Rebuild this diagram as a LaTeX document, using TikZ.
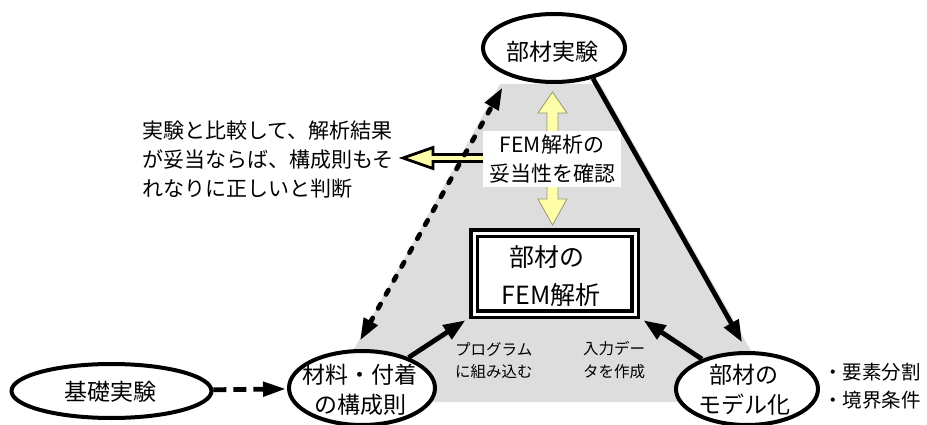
\documentclass[tikz,border=0pt]{standalone}
\usepackage{fontspec}
\setmainfont{Noto Sans CJK JP}
\usetikzlibrary{arrows.meta,shapes.geometric}
\definecolor{bggrey}{RGB}{221,221,221}
\definecolor{ylw}{RGB}{255,255,170}
\definecolor{ylwedge}{RGB}{150,150,110}
\begin{document}
\begin{tikzpicture}[x=1pt,y=-1pt,
  ell/.style={ellipse, draw, line width=4pt, fill=white, inner sep=0pt},
  bigtxt/.style={font=\fontsize{23}{30}\selectfont, align=center, inner sep=0pt},
  solidarr/.style={line width=4.8pt, -{Triangle[length=22pt,width=16pt]}},
  dasharr/.style={line width=4.8pt, dash pattern=on 5pt off 11pt, line cap=round,
     {Triangle[length=22pt,width=15pt]}-{Triangle[length=22pt,width=15pt]}},
  dasharrb/.style={line width=4.8pt, dash pattern=on 13pt off 7pt,
     -{Triangle[length=23pt,width=14pt]}},
  yblock/.style={fill=ylw, draw=ylwedge, line width=0.8pt, line join=miter},
  yblockb/.style={fill=ylw, draw=black, line width=2.8pt, line join=miter}
]
\useasboundingbox (0,0) rectangle (927,425);

% grey background area
\fill[bggrey] (500,84) -- (600,84) -- (780,402) -- (325,402) -- cycle;

% yellow block arrows
\draw[yblock] (552.5,92) -- (567,113) -- (558,113) -- (558,199) -- (567,199)
  -- (552.5,225) -- (538,199) -- (547,199) -- (547,113) -- (538,113) -- cycle;
\draw[yblockb] (403,158) -- (433,147.5) -- (433,154.5) -- (487,154.5)
  -- (487,161.5) -- (433,161.5) -- (433,168.5) -- cycle;

% label over the vertical arrow
\node[fill=white, inner xsep=6pt, inner ysep=4pt, align=center,
      font=\fontsize{21}{29}\selectfont] (lbl) at (552,159) {FEM解析の\\妥当性を確認};

% main nodes
\node[ell, minimum width=142pt, minimum height=68pt] (jikken) at (554,48) {};
\node[bigtxt] (jikkentxt) at (552,52) {部材実験};

\node[ell, minimum width=200pt, minimum height=54pt] (kiso) at (111.5,391) {};
\node[bigtxt] (kisotxt) at (110,392) {基礎実験};

\node[ell, minimum width=146pt, minimum height=74pt] (zairyo) at (362,388) {};
\node[bigtxt] (zairyotxt) at (360,390) {材料・付着\\の構成則};

\node[ell, minimum width=142pt, minimum height=72pt] (model) at (747,389) {};
\node[bigtxt] (modeltxt) at (744,390) {部材の\\モデル化};

\node[draw, double=white, double distance=3pt, line width=3.8pt, fill=white,
      minimum width=161pt, minimum height=81pt, inner sep=0pt] (fembox) at (554.5,273.5) {};
\node[font=\fontsize{25}{38}\selectfont, align=center, inner sep=0pt] (femtxt) at (551,276)
  {部材の\kern9pt\\FEM解析};

% text labels
\node[anchor=west, align=left, font=\fontsize{21}{29}\selectfont, inner sep=0pt] (note) at (142,160)
  {実験と比較して、解析結果\\が妥当ならば、構成則もそ\\れなりに正しいと判断};
\node[anchor=west, align=left, font=\fontsize{15.5}{22}\selectfont, inner sep=0pt] (prog) at (455,361)
  {プログラム\\に組み込む};
\node[anchor=west, align=left, font=\fontsize{15.5}{23}\selectfont, inner sep=0pt] (input) at (583,360)
  {入力デー\\タを作成};
\node[anchor=west, align=left, font=\fontsize{19.5}{28}\selectfont, inner sep=0pt] (cond) at (823,386)
  {・要素分割\\・境界条件};

% connectors
\draw[solidarr, shorten >=10pt] (jikken.322) -- (model.north);
\draw[dasharr, shorten <=10pt, shorten >=13pt] (zairyo.100) -- (jikken.212);
\draw[solidarr, shorten >=8pt] (zairyo) -- (fembox.south west);
\draw[solidarr, shorten >=8pt] (model) -- (fembox.south east);
\draw[dasharrb, shorten >=1pt] (kiso) -- (zairyo);
\end{tikzpicture}
\end{document}
